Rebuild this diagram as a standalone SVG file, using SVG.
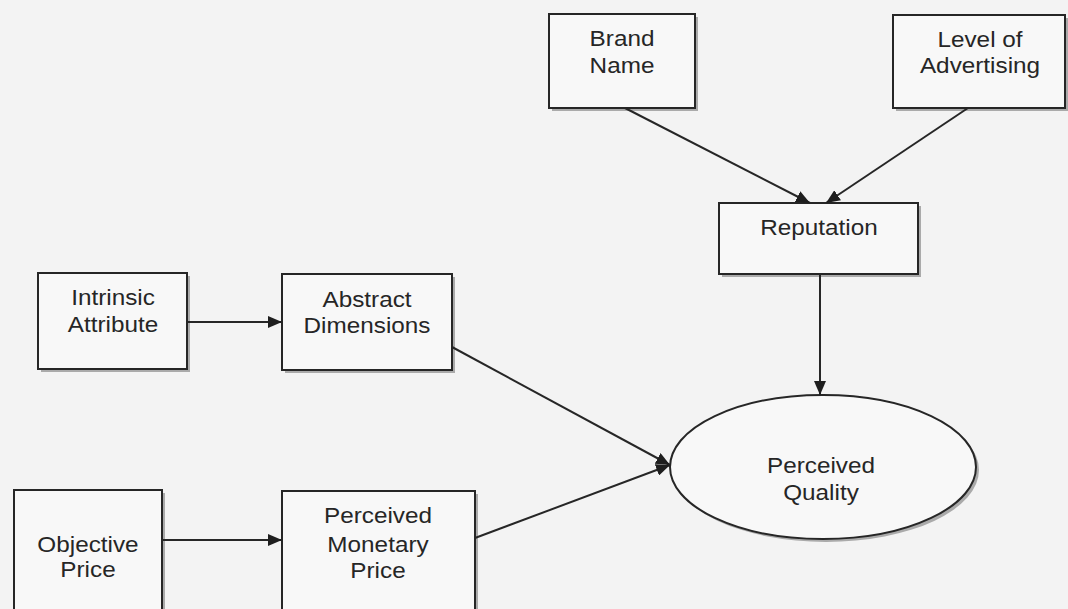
<svg xmlns="http://www.w3.org/2000/svg" width="1068" height="609" viewBox="0 0 1068 609">
<style>
.box{fill:#f8f8f8;stroke:#262626;stroke-width:2}
.shadow{fill:#8a8a8a;opacity:0.7}
.lbl{font-family:"Liberation Sans",Arial,sans-serif;font-size:21.5px;fill:#262626;text-anchor:middle}
.conn{stroke:#262626;stroke-width:2;fill:none}
</style>
<defs>
<marker id="arr" markerUnits="userSpaceOnUse" markerWidth="14" markerHeight="12" refX="14" refY="6" orient="auto">
<path d="M0,0 L14,6 L0,12 Z" fill="#1e1e1e"/>
</marker>
</defs>
<rect x="0" y="0" width="1068" height="609" fill="#f3f3f3"/>

<g id="brand-name">
<rect class="shadow" x="552" y="17" width="146" height="94"/>
<rect class="box" x="549" y="14" width="146" height="94"/>
<text class="lbl" transform="matrix(1.13 0 0 1 622 0)" x="0" y="46">Brand</text>
<text class="lbl" transform="matrix(1.13 0 0 1 622 0)" x="0" y="73">Name</text>
</g>

<g id="level-of-advertising">
<rect class="shadow" x="896" y="18" width="172" height="93"/>
<rect class="box" x="893" y="15" width="172" height="93"/>
<text class="lbl" transform="matrix(1.13 0 0 1 980 0)" x="0" y="47">Level of</text>
<text class="lbl" transform="matrix(1.13 0 0 1 980 0)" x="0" y="73">Advertising</text>
</g>

<g id="reputation">
<rect class="shadow" x="722" y="206" width="199" height="71"/>
<rect class="box" x="719" y="203" width="199" height="71"/>
<text class="lbl" transform="matrix(1.13 0 0 1 819 0)" x="0" y="235">Reputation</text>
</g>

<g id="intrinsic-attribute">
<rect class="shadow" x="41" y="276" width="149" height="96"/>
<rect class="box" x="38" y="273" width="149" height="96"/>
<text class="lbl" transform="matrix(1.13 0 0 1 113 0)" x="0" y="305">Intrinsic</text>
<text class="lbl" transform="matrix(1.13 0 0 1 113 0)" x="0" y="332">Attribute</text>
</g>

<g id="abstract-dimensions">
<rect class="shadow" x="285" y="277" width="170" height="96"/>
<rect class="box" x="282" y="274" width="170" height="96"/>
<text class="lbl" transform="matrix(1.13 0 0 1 367 0)" x="0" y="307">Abstract</text>
<text class="lbl" transform="matrix(1.13 0 0 1 367 0)" x="0" y="333">Dimensions</text>
</g>

<g id="objective-price">
<rect class="shadow" x="17" y="493" width="148" height="130"/>
<rect class="box" x="14" y="490" width="148" height="130"/>
<text class="lbl" transform="matrix(1.13 0 0 1 88 0)" x="0" y="552">Objective</text>
<text class="lbl" transform="matrix(1.13 0 0 1 88 0)" x="0" y="577">Price</text>
</g>

<g id="perceived-monetary-price">
<rect class="shadow" x="285" y="494" width="193" height="130"/>
<rect class="box" x="282" y="491" width="193" height="130"/>
<text class="lbl" transform="matrix(1.13 0 0 1 378 0)" x="0" y="523">Perceived</text>
<text class="lbl" transform="matrix(1.13 0 0 1 378 0)" x="0" y="552">Monetary</text>
<text class="lbl" transform="matrix(1.13 0 0 1 378 0)" x="0" y="578">Price</text>
</g>

<g id="perceived-quality">
<ellipse class="shadow" cx="826" cy="470" rx="153" ry="72"/>
<ellipse class="box" cx="823" cy="467" rx="153" ry="72"/>
<text class="lbl" transform="matrix(1.13 0 0 1 821 0)" x="0" y="473">Perceived</text>
<text class="lbl" transform="matrix(1.13 0 0 1 821 0)" x="0" y="500">Quality</text>
</g>

<g id="connectors">
<line class="conn" x1="625" y1="108" x2="810" y2="203" marker-end="url(#arr)"/>
<line class="conn" x1="968" y1="108" x2="826" y2="203" marker-end="url(#arr)"/>
<line class="conn" x1="820" y1="274" x2="820" y2="395" marker-end="url(#arr)"/>
<line class="conn" x1="187" y1="322" x2="282" y2="322" marker-end="url(#arr)"/>
<line class="conn" x1="162" y1="540" x2="282" y2="540" marker-end="url(#arr)"/>
<line class="conn" x1="452" y1="347" x2="670" y2="465" marker-end="url(#arr)"/>
<line class="conn" x1="475" y1="538" x2="670" y2="465" marker-end="url(#arr)"/>
</g>
</svg>
